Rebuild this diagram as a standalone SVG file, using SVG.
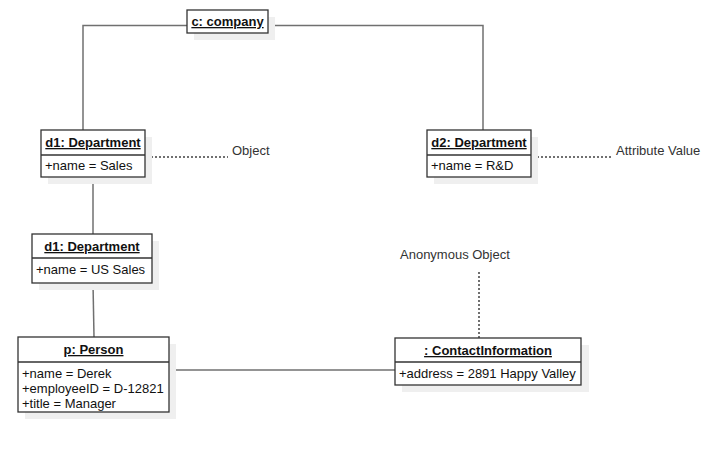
<svg xmlns="http://www.w3.org/2000/svg" width="716" height="459" viewBox="0 0 716 459">
<style>
.sh{fill:#efefef;stroke:none}
.bx{fill:#fff;stroke:#333;stroke-width:1.3}
.sep{stroke:#333;stroke-width:1.3}
.hd{font-family:"Liberation Sans",Arial,sans-serif;font-size:13px;font-weight:bold;text-decoration:underline;fill:#111;text-anchor:middle}
.at{font-family:"Liberation Sans",Arial,sans-serif;font-size:13px;fill:#111}
.lb{font-family:"Liberation Sans",Arial,sans-serif;font-size:13px;fill:#333}
.cn{fill:none;stroke:#707070;stroke-width:1.5}
.dt{fill:none;stroke:#707070;stroke-width:2;stroke-dasharray:2 2}
</style>
<rect width="716" height="459" fill="#fff"/>
<g id="connectors">
<polyline class="cn" points="187,25.5 83,25.5 83,130"/>
<polyline class="cn" points="268,25.5 483,25.5 483,130"/>
<line class="cn" x1="93" y1="177" x2="93" y2="234"/>
<line class="cn" x1="93" y1="283" x2="94" y2="337"/>
<line class="cn" x1="169" y1="370" x2="395" y2="370"/>
<line class="dt" x1="147" y1="157" x2="228" y2="157"/>
<line class="dt" x1="533" y1="157" x2="612" y2="157"/>
<line class="dt" x1="479" y1="272" x2="479" y2="338"/>
</g>
<g id="company">
<rect class="sh" x="194" y="17" width="81" height="23"/>
<rect class="bx" x="187" y="10" width="81" height="23"/>
<text class="hd" x="227.5" y="26">c: company</text>
</g>
<g id="d1">
<rect class="sh" x="48" y="137" width="104" height="47"/>
<rect class="bx" x="41" y="130" width="104" height="47"/>
<line class="sep" x1="41" y1="155" x2="145" y2="155"/>
<text class="hd" x="93" y="147">d1: Department</text>
<text class="at" x="45" y="170">+name = Sales</text>
</g>
<g id="d2">
<rect class="sh" x="434" y="137" width="104" height="47"/>
<rect class="bx" x="427" y="130" width="104" height="47"/>
<line class="sep" x1="427" y1="155" x2="531" y2="155"/>
<text class="hd" x="479" y="147">d2: Department</text>
<text class="at" x="431" y="170">+name = R&amp;D</text>
</g>
<g id="d1us">
<rect class="sh" x="39" y="241" width="120" height="49"/>
<rect class="bx" x="32" y="234" width="120" height="49"/>
<line class="sep" x1="32" y1="258" x2="152" y2="258"/>
<text class="hd" x="92" y="251">d1: Department</text>
<text class="at" x="36" y="274">+name = US Sales</text>
</g>
<g id="person">
<rect class="sh" x="25" y="344" width="151" height="75"/>
<rect class="bx" x="18" y="337" width="151" height="75"/>
<line class="sep" x1="18" y1="362" x2="169" y2="362"/>
<text class="hd" x="93.5" y="354">p: Person</text>
<text class="at" x="22" y="378">+name = Derek</text>
<text class="at" x="22" y="393">+employeeID = D-12821</text>
<text class="at" x="22" y="408">+title = Manager</text>
</g>
<g id="contact">
<rect class="sh" x="402" y="345" width="187" height="47"/>
<rect class="bx" x="395" y="338" width="186" height="47"/>
<line class="sep" x1="395" y1="362" x2="581" y2="362"/>
<text class="hd" x="488" y="355">: ContactInformation</text>
<text class="at" x="399" y="378">+address = 2891 Happy Valley</text>
</g>
<g id="labels">
<text class="lb" x="232" y="155">Object</text>
<text class="lb" x="616" y="155">Attribute Value</text>
<text class="lb" x="400" y="259">Anonymous Object</text>
</g>
</svg>
